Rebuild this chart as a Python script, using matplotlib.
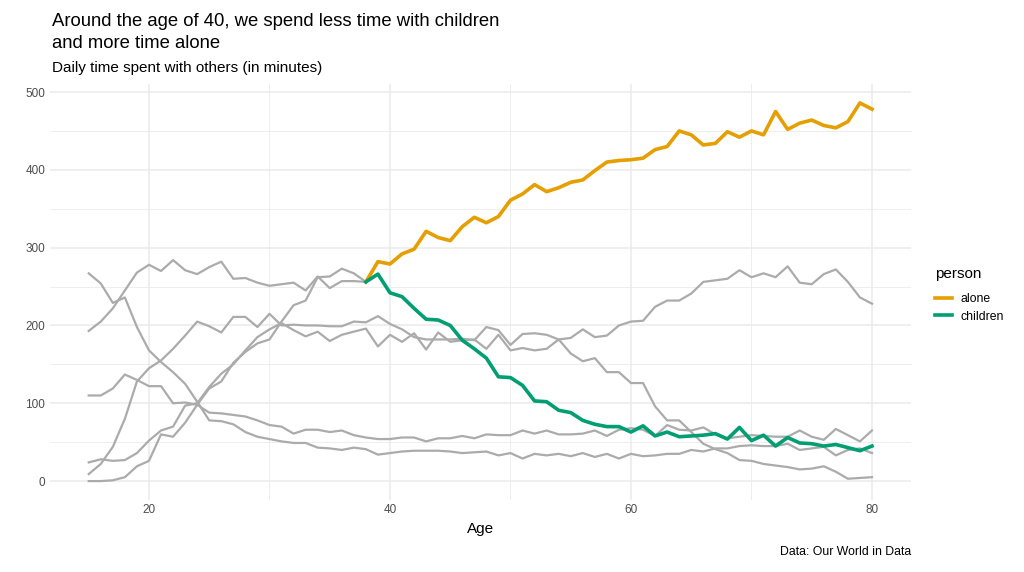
import matplotlib
matplotlib.use("Agg")
import matplotlib.pyplot as plt
from matplotlib.lines import Line2D
from matplotlib.ticker import MultipleLocator

plt.rcParams['font.family'] = ['Liberation Sans', 'DejaVu Sans']

ages = list(range(15, 81))

alone = [193, 205, 222, 245, 268, 278, 270, 284, 271, 266, 275, 282, 260, 261, 255, 251,
         253, 255, 245, 263, 248, 257, 257, 256, 282, 279, 292, 298, 321, 313, 309, 327,
         339, 332, 340, 361, 369, 381, 372, 377, 384, 387, 399, 410, 412, 413, 415, 426,
         430, 450, 445, 432, 434, 449, 442, 450, 445, 475, 452, 460, 464, 457, 454, 462,
         486, 478]
children = [0, 0, 1, 5, 19, 26, 60, 57, 75, 98, 119, 128, 152, 166, 177, 182,
            205, 226, 232, 262, 263, 273, 267, 256, 266, 242, 237, 222, 208, 207, 200, 181,
            170, 158, 134, 133, 123, 103, 102, 91, 88, 78, 73, 70, 70, 63, 71, 58,
            63, 57, 58, 59, 61, 54, 69, 52, 59, 45, 56, 49, 48, 45, 47, 43,
            39, 45]
coworkers = [9, 22, 44, 80, 128, 145, 155, 170, 187, 205, 199, 191, 211, 211, 198, 215,
             200, 201, 200, 200, 199, 199, 205, 204, 212, 202, 195, 185, 182, 182, 182, 183,
             181, 198, 194, 175, 189, 190, 188, 182, 164, 154, 158, 140, 140, 126, 126, 96,
             78, 78, 63, 48, 41, 36, 27, 26, 22, 20, 18, 15, 16, 19, 12, 3,
             4, 5]
partner = [24, 28, 26, 27, 36, 52, 65, 70, 97, 100, 121, 138, 150, 168, 185, 195,
           203, 194, 186, 192, 180, 188, 192, 196, 173, 188, 179, 190, 169, 191, 179, 181,
           182, 170, 188, 168, 171, 168, 170, 182, 184, 195, 185, 187, 200, 205, 206, 224,
           232, 232, 241, 256, 258, 260, 271, 262, 267, 262, 276, 255, 253, 266, 272, 256,
           236, 228]
friends = [110, 110, 119, 137, 130, 122, 122, 100, 101, 98, 88, 87, 85, 83, 78, 72,
           70, 61, 66, 66, 63, 65, 59, 56, 54, 54, 56, 56, 51, 55, 55, 58,
           55, 60, 59, 59, 65, 61, 65, 60, 60, 61, 65, 58, 66, 68, 66, 58,
           72, 66, 65, 69, 60, 55, 57, 59, 58, 57, 57, 65, 57, 53, 67, 59,
           51, 65]
family = [267, 254, 229, 236, 198, 168, 153, 140, 125, 102, 78, 77, 73, 63, 57, 54,
          51, 49, 49, 43, 42, 40, 43, 41, 34, 36, 38, 39, 39, 39, 38, 36,
          37, 38, 33, 36, 29, 35, 33, 35, 32, 36, 31, 35, 29, 35, 32, 33,
          35, 35, 40, 38, 42, 42, 45, 46, 45, 45, 48, 40, 42, 44, 33, 40,
          42, 36]

series = {"alone": alone, "children": children, "coworkers": coworkers,
          "partner": partner, "friends": friends, "family": family}
highlight = {"alone": "#E69F00", "children": "#009E73"}
start_age = 38

fig = plt.figure(figsize=(10.24, 5.72), dpi=100)
ax = fig.add_axes([0.0484, 0.1259, 0.8414, 0.7272])

for name, vals in series.items():
    ax.plot(ages, vals, color="#ABABAB", lw=1.6, zorder=2)

for name, col in highlight.items():
    vals = series[name]
    xs = [a for a in ages if a >= start_age]
    ys = [v for a, v in zip(ages, vals) if a >= start_age]
    ax.plot(xs, ys, color=col, lw=2.6, zorder=3)

ax.set_xlim(11.75, 83.25)
ax.set_ylim(-24.3, 510.3)
ax.xaxis.set_major_locator(MultipleLocator(20))
ax.xaxis.set_minor_locator(MultipleLocator(10))
ax.yaxis.set_major_locator(MultipleLocator(100))
ax.yaxis.set_minor_locator(MultipleLocator(50))
ax.grid(which="major", color="#EBEBEB", lw=1.1)
ax.grid(which="minor", color="#EBEBEB", lw=0.6)
ax.set_axisbelow(True)
for s in ax.spines.values():
    s.set_visible(False)
ax.tick_params(which="both", length=0, labelsize=8.5, labelcolor="#4D4D4D", pad=3)
ax.set_xlabel("Age", fontsize=11, color="black", labelpad=4)

fig.text(0.0508, 0.977, "Around the age of 40, we spend less time with children\nand more time alone",
         fontsize=13.3, va="top", ha="left", linespacing=1.4)
fig.text(0.0508, 0.893, "Daily time spent with others (in minutes)", fontsize=11,
         va="top", ha="left")
fig.text(0.890, 0.025, "Data: Our World in Data", fontsize=8.8, ha="right", va="bottom")

handles = [Line2D([0], [0], color=c, lw=2.6) for c in highlight.values()]
leg = fig.legend(handles, list(highlight.keys()), title="person", loc="upper left",
                 bbox_to_anchor=(0.902, 0.553), frameon=False, fontsize=8.8,
                 title_fontsize=11, handlelength=1.4, handletextpad=0.7,
                 labelspacing=0.45, alignment="left")
leg._legend_box.sep = 9

fig.savefig("out.png", dpi=100)
